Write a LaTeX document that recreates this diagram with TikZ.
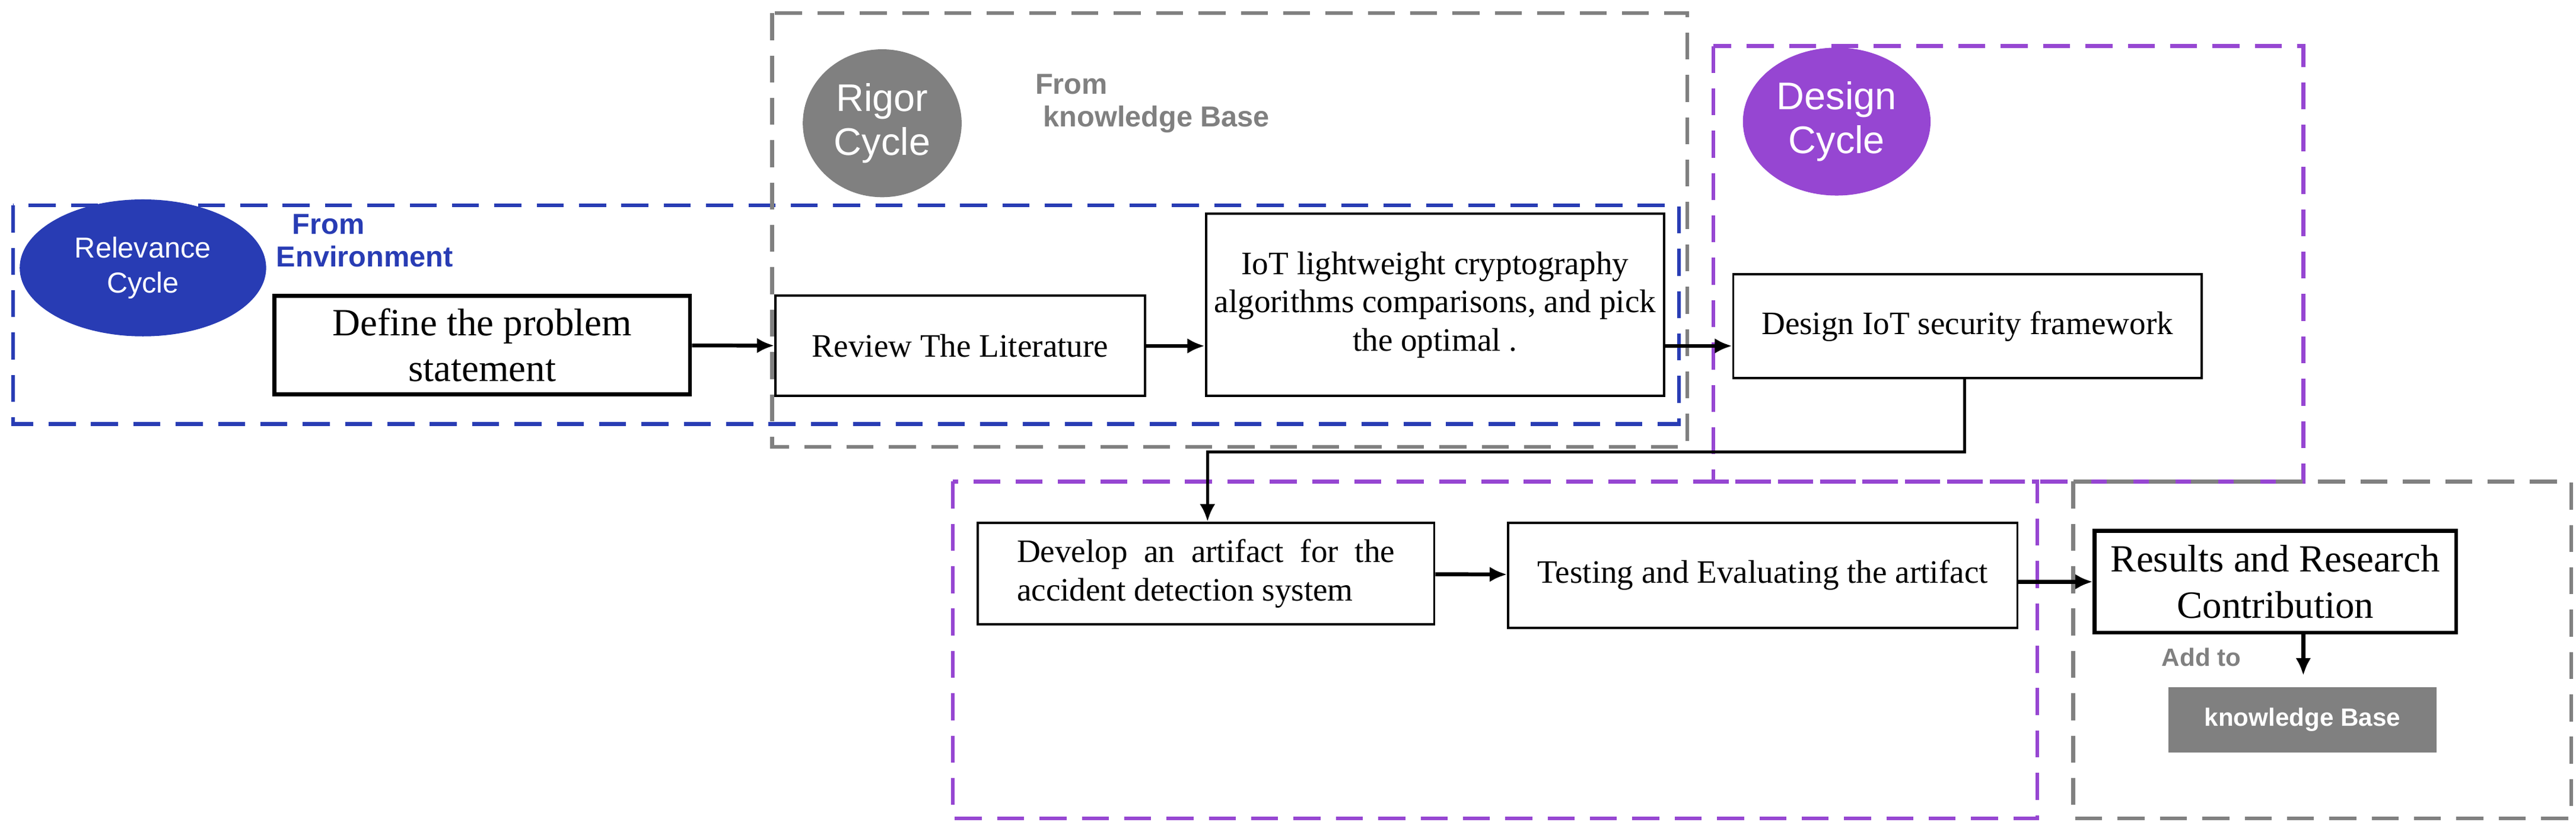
\documentclass[tikz,border=0pt]{standalone}
\usepackage{fontspec}
\setmainfont{Liberation Serif}
\newfontfamily\sans{Liberation Sans}
\usetikzlibrary{arrows.meta,shapes.geometric}
\definecolor{myblue}{RGB}{40,60,180}
\definecolor{mygray}{RGB}{128,128,128}
\definecolor{mypurple}{RGB}{150,70,210}
\begin{document}
\begin{tikzpicture}[x=0.03cm,y=-0.03cm,
  box/.style={draw,line width=1.2pt,align=center,font=\fontsize{17}{20}\selectfont,inner sep=2pt},
  dbox/.style={line width=2pt,dash pattern=on 14pt off 8pt},
  arr/.style={-{Latex[length=9pt,width=8pt]},line width=2pt},
  cyc/.style={ellipse,text=white,font=\sans\fontsize{20}{23}\selectfont,align=center}]
\useasboundingbox (0,0) rectangle (1568,508);
\draw[dbox,myblue] (8,125) rectangle (1022,258);
\draw[dbox,mygray] (470,8) rectangle (1027,272);
\draw[dbox,mypurple] (1043,28) rectangle (1402,293);
\draw[dbox,mypurple] (580,293) rectangle (1240,498);
\draw[dbox,mygray] (1262,293) rectangle (1565,498);
\node[ellipse,fill=myblue,text=white,font=\sans\fontsize{15}{18}\selectfont,align=center,inner sep=0,minimum width=4.5cm,minimum height=2.5cm] (rel) at (87,163) {Relevance\\Cycle};
\node[font=\sans\bfseries\fontsize{15}{17}\selectfont,text=myblue,align=left,anchor=north west,inner sep=0] (env) at (168,130) {\ \ From\\Environment};
\node[cyc,fill=mygray,minimum width=2.9cm,minimum height=2.7cm] (rig) at (537,75) {Rigor\\Cycle};
\node[font=\sans\bfseries\fontsize{15}{17}\selectfont,text=mygray,align=left,anchor=north west,inner sep=0] (kb1) at (630,45) {From\\\ knowledge Base};
\node[cyc,fill=mypurple,minimum width=2.9cm,minimum height=2.7cm] (des) at (1118,74) {Design\\Cycle};
\node[box,line width=2pt,minimum width=253*0.03cm,minimum height=60*0.03cm,font=\fontsize{20}{24}\selectfont] (def) at (293.5,210) {Define the problem\\statement};
\node[box,minimum width=225*0.03cm,minimum height=61*0.03cm] (rev) at (584.5,210.5) {Review The Literature};
\node[box,minimum width=279*0.03cm,minimum height=111*0.03cm] (iot) at (873.5,185.5) {IoT lightweight cryptography\\algorithms comparisons, and pick\\the optimal .};
\node[box,minimum width=285*0.03cm,minimum height=63*0.03cm] (dif) at (1197.5,198.5) {Design IoT security framework};
\node[box,minimum width=278*0.03cm,minimum height=62*0.03cm,align=left] (dev) at (734,349) {Develop\ \ an\ \ artifact\ \ for\ \ the\\accident detection system};
\node[box,minimum width=310*0.03cm,minimum height=64*0.03cm] (tes) at (1073,350) {Testing and Evaluating the artifact};
\node[box,line width=2pt,minimum width=220*0.03cm,minimum height=62*0.03cm,font=\fontsize{20}{24}\selectfont] (res) at (1385,354) {Results and Research\\Contribution};
\node[fill=mygray,text=white,font=\sans\bfseries\fontsize{13}{15}\selectfont,minimum width=163*0.03cm,minimum height=40*0.03cm] (kb) at (1401.5,438) {knowledge Base};
\node[font=\sans\bfseries\fontsize{13}{15}\selectfont,text=mygray] (add) at (1340,400) {Add to};
\draw[arr] (def) -- (rev);
\draw[arr] (rev) -- (iot.west|-rev);
\draw[arr] (iot.east|-rev) -- (dif.west|-rev);
\coordinate (c1) at (1196,275);
\coordinate (c2) at (735,275);
\draw[arr,line width=1.5pt] (dif.south-|c1) -- (c1) -- (c2) -- (dev.north-|c2);
\draw[arr] (dev) -- (tes);
\draw[arr] (tes.east|-res) -- (res);
\coordinate (c3) at (1402,385);
\coordinate (c4) at (1402,411);
\draw[arr] (c3) -- (c4);
\end{tikzpicture}
\end{document}
